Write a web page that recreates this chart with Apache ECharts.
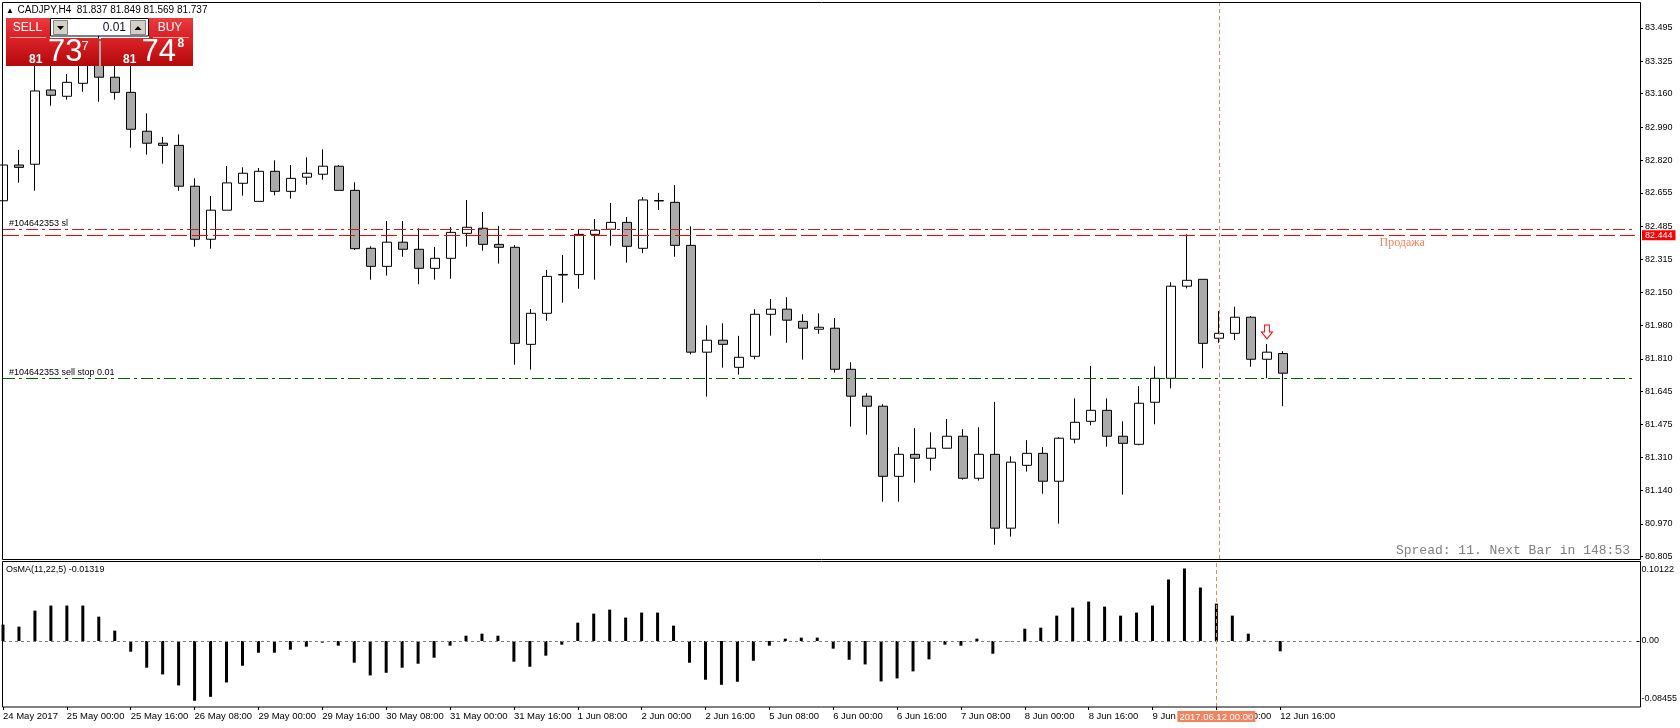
<!DOCTYPE html>
<html>
<head>
<meta charset="utf-8">
<title>CADJPY,H4</title>
<script src="https://cdn.jsdelivr.net/npm/echarts@6/dist/echarts.min.js"></script>
<style>
  html, body { margin: 0; padding: 0; background: #fff; }
  #chart { width: 1680px; height: 728px; }
</style>
</head>
<body>
<div id="chart"></div>
<script>
// H4 bars, 24 May 08:00 .. 12 Jun 16:00
var times = [
  '24 May 08:00', '24 May 12:00', '24 May 16:00', '24 May 20:00',
  '25 May 00:00', '25 May 04:00', '25 May 08:00', '25 May 12:00', '25 May 16:00', '25 May 20:00',
  '26 May 00:00', '26 May 04:00', '26 May 08:00', '26 May 12:00', '26 May 16:00', '26 May 20:00',
  '29 May 00:00', '29 May 04:00', '29 May 08:00', '29 May 12:00', '29 May 16:00', '29 May 20:00',
  '30 May 00:00', '30 May 04:00', '30 May 08:00', '30 May 12:00', '30 May 16:00', '30 May 20:00',
  '31 May 00:00', '31 May 04:00', '31 May 08:00', '31 May 12:00', '31 May 16:00', '31 May 20:00',
  '1 Jun 00:00', '1 Jun 04:00', '1 Jun 08:00', '1 Jun 12:00', '1 Jun 16:00', '1 Jun 20:00',
  '2 Jun 00:00', '2 Jun 04:00', '2 Jun 08:00', '2 Jun 12:00', '2 Jun 16:00', '2 Jun 20:00',
  '5 Jun 00:00', '5 Jun 04:00', '5 Jun 08:00', '5 Jun 12:00', '5 Jun 16:00', '5 Jun 20:00',
  '6 Jun 00:00', '6 Jun 04:00', '6 Jun 08:00', '6 Jun 12:00', '6 Jun 16:00', '6 Jun 20:00',
  '7 Jun 00:00', '7 Jun 04:00', '7 Jun 08:00', '7 Jun 12:00', '7 Jun 16:00', '7 Jun 20:00',
  '8 Jun 00:00', '8 Jun 04:00', '8 Jun 08:00', '8 Jun 12:00', '8 Jun 16:00', '8 Jun 20:00',
  '9 Jun 00:00', '9 Jun 04:00', '9 Jun 08:00', '9 Jun 12:00', '9 Jun 16:00', '9 Jun 20:00',
  '12 Jun 00:00', '12 Jun 04:00', '12 Jun 08:00', '12 Jun 12:00', '12 Jun 16:00'
];
var opens = [
  82.615, 82.797, 82.801, 83.179, 83.147, 83.213, 83.434, 83.244, 83.167, 82.969,
  82.908, 82.897, 82.689, 82.419, 82.567, 82.704, 82.612, 82.765, 82.663, 82.735,
  82.750, 82.791, 82.668, 82.373, 82.281, 82.404, 82.368, 82.271, 82.322, 82.449,
  82.475, 82.393, 82.378, 81.884, 82.042, 82.240, 82.239, 82.444, 82.470, 82.505,
  82.373, 82.616, 82.607, 82.388, 81.844, 81.905, 81.767, 81.823, 82.037, 82.063,
  82.001, 81.961, 81.966, 81.757, 81.620, 81.569, 81.212, 81.324, 81.304, 81.355,
  81.416, 81.202, 81.324, 80.948, 81.268, 81.329, 81.187, 81.401, 81.492, 81.548,
  81.416, 81.375, 81.589, 81.711, 82.180, 82.215, 81.915, 81.940, 82.022, 81.808,
  81.837
];
var highs = [
  82.904, 82.874, 83.383, 83.332, 83.260, 83.408, 83.484, 83.342, 83.332, 83.060,
  82.940, 82.953, 82.729, 82.639, 82.792, 82.785, 82.782, 82.821, 82.797, 82.836,
  82.877, 82.796, 82.709, 82.383, 82.512, 82.512, 82.475, 82.380, 82.481, 82.619,
  82.558, 82.487, 82.390, 82.064, 82.263, 82.339, 82.466, 82.522, 82.604, 82.532,
  82.634, 82.655, 82.695, 82.485, 81.981, 81.991, 81.927, 82.063, 82.115, 82.124,
  82.037, 82.042, 82.018, 81.793, 81.635, 81.579, 81.361, 81.457, 81.436, 81.504,
  81.452, 81.462, 81.591, 81.314, 81.396, 81.361, 81.411, 81.609, 81.774, 81.609,
  81.492, 81.671, 81.772, 82.200, 82.444, 82.215, 82.054, 82.076, 82.028, 81.886,
  81.849
];
var lows = [
  82.577, 82.707, 82.666, 83.099, 83.130, 83.170, 83.119, 83.130, 82.885, 82.850,
  82.804, 82.666, 82.381, 82.371, 82.567, 82.641, 82.612, 82.643, 82.626, 82.697,
  82.722, 82.668, 82.364, 82.213, 82.234, 82.330, 82.190, 82.213, 82.218, 82.381,
  82.361, 82.295, 81.780, 81.755, 82.004, 82.096, 82.167, 82.213, 82.386, 82.300,
  82.348, 82.568, 82.330, 81.833, 81.618, 81.765, 81.730, 81.808, 81.928, 81.892,
  81.806, 81.938, 81.740, 81.465, 81.424, 81.083, 81.083, 81.180, 81.241, 81.355,
  81.195, 81.190, 80.864, 80.905, 81.236, 81.124, 80.971, 81.380, 81.472, 81.363,
  81.119, 81.370, 81.477, 81.660, 82.169, 81.762, 81.892, 81.906, 81.770, 81.711,
  81.569
];
var closes = [
  82.797, 82.785, 83.174, 83.152, 83.218, 83.357, 83.244, 83.167, 82.979, 82.908,
  82.897, 82.689, 82.419, 82.567, 82.706, 82.755, 82.765, 82.663, 82.729, 82.755,
  82.791, 82.668, 82.371, 82.281, 82.404, 82.368, 82.271, 82.322, 82.454, 82.480,
  82.393, 82.378, 81.889, 82.042, 82.230, 82.237, 82.444, 82.465, 82.505, 82.383,
  82.619, 82.614, 82.388, 81.844, 81.905, 81.884, 81.818, 82.037, 82.063, 82.007,
  81.966, 81.971, 81.757, 81.620, 81.569, 81.212, 81.324, 81.304, 81.355, 81.416,
  81.202, 81.324, 80.948, 81.284, 81.329, 81.187, 81.406, 81.487, 81.548, 81.416,
  81.380, 81.584, 81.711, 82.180, 82.210, 81.889, 81.940, 82.022, 81.808, 81.844,
  81.737
];
// OsMA(11,22,5) histogram
var osma = [
  0.0210, 0.0184, 0.0389, 0.0454, 0.0454, 0.0454, 0.0312, 0.0133, -0.0137, -0.0342,
  -0.0428, -0.0569, -0.0766, -0.0715, -0.0531, -0.0317, -0.0150, -0.0150, -0.0111, -0.0073,
  -0.0021, -0.0060, -0.0278, -0.0441, -0.0407, -0.0342, -0.0291, -0.0214, -0.0060, 0.0068,
  0.0094, 0.0068, -0.0265, -0.0330, -0.0188, -0.0047, 0.0235, 0.0351, 0.0402, 0.0300,
  0.0364, 0.0364, 0.0197, -0.0278, -0.0496, -0.0561, -0.0522, -0.0253, -0.0060, 0.0030,
  0.0043, 0.0043, -0.0098, -0.0240, -0.0300, -0.0518, -0.0479, -0.0389, -0.0235, -0.0047,
  -0.0060, 0.0030, -0.0163, -0.0004, 0.0158, 0.0171, 0.0325, 0.0428, 0.0505, 0.0441,
  0.0325, 0.0364, 0.0454, 0.0788, 0.0929, 0.0685, 0.0479, 0.0325, 0.0094, 0.0004,
  -0.01319
];
var priceTicks = [83.495, 83.325, 83.160, 82.990, 82.820, 82.655, 82.485, 82.315,
                  82.150, 81.980, 81.810, 81.645, 81.475, 81.310, 81.140, 80.970, 80.805];
var priceMin = 80.791, priceMax = 83.627;
var osmaMin = -0.08455, osmaMax = 0.10122;

var firstLabel = '24 May 2017';
var cursorBar = 76, cursorLabel = '2017.06.12 00:00';
var orderPrice = 82.444, slPrice = 82.465, sellStopPrice = 81.706;
var spreadPoints = 11;
var emptySlots = 22;   // chart shift on the right

var n = times.length;
var last = n - 1;
var bid = closes[last];
var ask = +(bid + spreadPoints * 0.001).toFixed(3);

var cats = times.slice();
for (var i = 0; i < emptySlots; i++) cats.push('');

var candles = [];
for (var i = 0; i < n; i++) candles.push([opens[i], closes[i], lows[i], highs[i]]);

// tick marks every 4 bars, only where there are bars
function tickEvery4(i) { return i % 4 === 0 && i < n; }

var coral = '#f2835f';
var sans = '"Liberation Sans", Arial, sans-serif';

function rect(x, y, w, h, fill, stroke, z) {
  return { type: 'rect', z: z || 100, silent: true,
    shape: { x: x, y: y, width: w, height: h },
    style: { fill: fill, stroke: stroke || null, lineWidth: 1 } };
}
function txt(x, y, text, font, fill, align, valign, z) {
  return { type: 'text', z: z || 101, silent: true, x: x, y: y,
    style: { text: text, font: font, fill: fill,
      textAlign: align || 'left', textVerticalAlign: valign || 'middle' } };
}
function poly(points, fill) {
  return { type: 'polygon', z: 102, silent: true, shape: { points: points }, style: { fill: fill } };
}

var gradTop = new echarts.graphic.LinearGradient(0, 0, 0, 1, [
  { offset: 0, color: '#ec3b3f' }, { offset: 1, color: '#d81f24' }]);
var gradBot = new echarts.graphic.LinearGradient(0, 0, 0, 1, [
  { offset: 0, color: '#dc2428' }, { offset: 1, color: '#b3080c' }]);

function bidParts(p) {
  var s = p.toFixed(3);
  return [s.slice(0, 2), s.slice(3, 5), s.slice(5, 6)];
}
var bp = bidParts(bid), ap = bidParts(ask);

var graphics = [
  // frames
  { type: 'rect', z: 50, silent: true, shape: { x: 2.5, y: 2.5, width: 1638, height: 557 },
    style: { fill: null, stroke: '#000', lineWidth: 1 } },
  { type: 'rect', z: 50, silent: true, shape: { x: 2.5, y: 561.5, width: 1638, height: 145.5 },
    style: { fill: null, stroke: '#000', lineWidth: 1 } },
  // header
  txt(6, 10.5, '\u25B2', '8px ' + sans, '#000'),
  txt(17.5, 10.5, 'CADJPY,H4  ' + [opens[last], highs[last], lows[last], closes[last]].map(function (v) { return v.toFixed(3); }).join(' '),
      '10px ' + sans, '#000'),
  // one click trading panel
  rect(6, 18, 44, 20, gradTop),
  rect(149, 18, 44, 20, gradTop),
  rect(6, 38, 93, 28, gradBot),
  rect(101, 38, 92, 28, gradBot),
  { type: 'line', z: 101, silent: true, shape: { x1: 10, y1: 37.5, x2: 46, y2: 37.5 }, style: { stroke: '#f4a3a3', lineWidth: 1 } },
  { type: 'line', z: 101, silent: true, shape: { x1: 153, y1: 37.5, x2: 189, y2: 37.5 }, style: { stroke: '#f4a3a3', lineWidth: 1 } },
  rect(50.5, 18.5, 98, 17.5, '#ffffff', '#000000'),
  rect(53.5, 20.5, 14, 14, '#d4d0c8', '#808080', 101),
  rect(130.5, 20.5, 15, 14, '#d4d0c8', '#808080', 101),
  poly([[57, 26], [64, 26], [60.5, 30]], '#000'),
  poly([[134.5, 30], [141.5, 30], [138, 26]], '#000'),
  txt(126, 27.5, '0.01', '12px ' + sans, '#101030', 'right'),
  txt(27.5, 28, 'SELL', '12px "Liberation Sans Narrow", ' + sans, '#fff', 'center'),
  txt(170, 28, 'BUY', '12px "Liberation Sans Narrow", ' + sans, '#fff', 'center'),
  txt(29, 59.5, bp[0], 'bold 12px ' + sans, '#fff'),
  txt(48, 52.5, bp[1], '31px ' + sans, '#fff'),
  txt(81.5, 46, bp[2], '13px ' + sans, '#fff'),
  txt(123, 59.5, ap[0], 'bold 12px ' + sans, '#fff'),
  txt(141.5, 52.5, ap[1], '31px ' + sans, '#fff'),
  txt(177.5, 44, ap[2], 'bold 12px ' + sans, '#fff'),
  // status text
  txt(1630, 551, 'Spread: ' + spreadPoints + '. Next Bar in 148:53', '13px "Liberation Mono", monospace', '#808080', 'right', 'middle', 60),
  txt(6, 570, 'OsMA(11,22,5) ' + osma[last].toFixed(5), '9px ' + sans, '#000', 'left', 'middle', 60)
];

var option = {
  animation: false,
  backgroundColor: '#ffffff',
  grid: [
    { left: 3, top: 2, width: 1632, height: 557 },
    { left: 3, top: 562, width: 1632, height: 145 }
  ],
  xAxis: [
    { type: 'category', gridIndex: 0, data: cats, boundaryGap: false, show: false },
    { type: 'category', gridIndex: 1, data: cats, boundaryGap: false, position: 'bottom',
      axisLine: { show: false, onZero: false },
      axisTick: { show: true, interval: tickEvery4, length: 3, lineStyle: { color: '#000' } },
      axisLabel: { interval: 3, align: 'left', margin: 4, fontSize: 9.5, fontFamily: 'Liberation Sans',
        color: '#000', showMinLabel: true, showMaxLabel: false,
        formatter: function (v, i) { return i === 0 ? firstLabel : v; } },
      splitLine: { show: false } }
  ],
  yAxis: [
    { type: 'value', gridIndex: 0, position: 'right', offset: 5, min: priceMin, max: priceMax,
      axisLine: { show: false },
      axisTick: { show: true, length: 3, customValues: priceTicks, lineStyle: { color: '#000' } },
      axisLabel: { customValues: priceTicks, margin: 5, fontSize: 9, fontFamily: 'Liberation Sans', color: '#000',
        formatter: function (v) { return v.toFixed(3); } },
      splitLine: { show: false } },
    { type: 'value', gridIndex: 1, position: 'right', offset: 5, min: osmaMin, max: osmaMax,
      axisLine: { show: false },
      axisTick: { show: true, length: 3, customValues: [0], lineStyle: { color: '#000' } },
      axisLabel: { customValues: [osmaMax - 0.009, 0, osmaMin + 0.0108], margin: 5, fontSize: 9,
        fontFamily: 'Liberation Sans', color: '#000',
        formatter: function (v) {
          if (v > 0.001) return osmaMax.toFixed(5);
          if (v < -0.001) return osmaMin.toFixed(5);
          return '0.00';
        } },
      splitLine: { show: false } }
  ],
  graphic: graphics,
  series: [
    {
      type: 'candlestick', name: 'CADJPY,H4', xAxisIndex: 0, yAxisIndex: 0,
      data: candles, barWidth: 9,
      itemStyle: { color: '#ffffff', color0: '#aaaaaa', borderColor: '#000000', borderColor0: '#000000', borderWidth: 1 },
      markLine: {
        silent: true, symbol: ['none', 'none'], animation: false,
        label: { show: false },
        data: [
          { yAxis: slPrice, lineStyle: { color: '#c41e1e', width: 1, type: [12, 4, 3, 4] },
            label: { show: true, position: 'insideStartTop', distance: [6, 1], formatter: '#104642353 sl',
              color: '#000', fontSize: 9, fontFamily: 'Liberation Sans' } },
          { yAxis: orderPrice, lineStyle: { color: '#ff0000', width: 1, type: [16, 5] },
            label: { show: true, position: 'end', distance: 7, formatter: orderPrice.toFixed(3),
              color: '#fff', backgroundColor: '#ff0000', padding: [1, 3, 0, 3], fontSize: 9, fontFamily: 'Liberation Sans' } },
          { yAxis: sellStopPrice, lineStyle: { color: '#006400', width: 1, type: [12, 4, 3, 4] },
            label: { show: true, position: 'insideStartTop', distance: [6, 1], formatter: '#104642353 sell stop 0.01',
              color: '#000', fontSize: 9, fontFamily: 'Liberation Sans' } },
          { yAxis: bid, lineStyle: { opacity: 0 },
            label: { show: true, position: 'end', distance: 7, formatter: bid.toFixed(3),
              color: '#fff', backgroundColor: '#000000', padding: [1, 3, 0, 3], fontSize: 9, fontFamily: 'Liberation Sans' } },
          { xAxis: cursorBar, lineStyle: { color: coral, width: 1, type: [4, 3] } }
        ]
      },
      markPoint: {
        silent: true, animation: false,
        data: [
          { coord: [79, 81.947], symbol: 'path://M3,0 L8,0 L8,7 L11,7 L5.5,14 L0,7 L3,7 Z', symbolSize: [11, 14],
            itemStyle: { color: '#ffffff', borderColor: '#ff0000', borderWidth: 1 }, label: { show: false } },
          { coord: [86, orderPrice], symbol: 'circle', symbolSize: 1, itemStyle: { color: 'rgba(0,0,0,0)' },
            label: { show: true, position: 'right', distance: 0, offset: [0, 8], formatter: 'Продажа',
              color: coral, fontSize: 12, fontFamily: 'Liberation Serif' } }
        ]
      }
    },
    {
      type: 'bar', name: 'OsMA', xAxisIndex: 1, yAxisIndex: 1,
      data: osma, barWidth: 3,
      itemStyle: { color: '#000000' },
      markLine: {
        silent: true, symbol: ['none', 'none'], animation: false,
        label: { show: false },
        data: [
          { yAxis: 0, lineStyle: { color: '#808080', width: 1, type: [3, 3] } },
          { xAxis: cursorBar, lineStyle: { color: coral, width: 1, type: [4, 3] },
            label: { show: true, position: 'start', distance: 4, formatter: cursorLabel,
              color: '#fff', backgroundColor: coral, padding: [1, 2, 0, 2], fontSize: 9.5, fontFamily: 'Liberation Sans' } }
        ]
      }
    }
  ]
};

var chart = echarts.init(document.getElementById('chart'));
chart.setOption(option);
</script>
</body>
</html>
